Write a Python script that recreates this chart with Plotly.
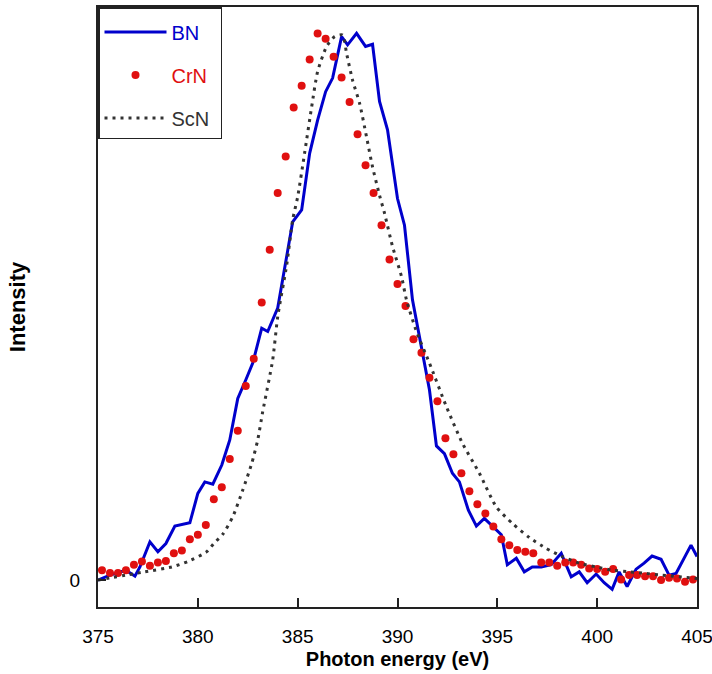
import plotly.graph_objects as go

# BN spectrum (solid blue line)
bn_energy = [375.0, 375.6, 376.4, 376.85, 377.1, 377.6, 378.0, 378.4, 378.85, 379.6,
             380.0, 380.35, 380.75, 381.2, 381.6, 382.0, 382.4, 382.75, 383.2, 383.5,
             384.0, 384.75, 385.2, 385.6, 386.0, 386.4, 386.75, 387.2, 387.5, 387.95,
             388.4, 388.75, 389.1, 389.5, 390.0, 390.35, 390.75, 391.6, 391.95, 392.35,
             392.75, 393.1, 393.55, 393.95, 394.35, 394.75, 395.2, 395.5, 395.95, 396.35,
             396.75, 397.2, 397.7, 398.2, 398.7, 399.1, 399.5, 399.95, 400.35, 400.75,
             401.1, 401.5, 401.95, 402.35, 402.75, 403.2, 403.6, 403.95, 404.35, 404.7,
             405.0]
bn_intensity = [0.0, 0.009, 0.018, 0.007, 0.024, 0.070, 0.052, 0.067, 0.099, 0.105,
                0.159, 0.180, 0.176, 0.211, 0.257, 0.333, 0.367, 0.398, 0.462, 0.456,
                0.499, 0.657, 0.679, 0.783, 0.844, 0.896, 0.921, 0.997, 0.982, 1.003,
                0.979, 0.983, 0.878, 0.826, 0.700, 0.651, 0.514, 0.349, 0.246, 0.232,
                0.196, 0.180, 0.128, 0.099, 0.113, 0.098, 0.083, 0.028, 0.040, 0.015,
                0.024, 0.024, 0.028, 0.049, 0.006, 0.015, -0.005, 0.011, -0.005, -0.017,
                0.015, -0.012, 0.020, 0.031, 0.044, 0.038, 0.009, 0.012, 0.040, 0.064,
                0.043]

# CrN spectrum (red dots)
crn_energy = [375.2, 375.6, 376.0, 376.4, 376.8, 377.2, 377.6, 378.0, 378.4, 378.8,
              379.2, 379.6, 380.0, 380.4, 380.8, 381.2, 381.6, 382.0, 382.4, 382.8,
              383.2, 383.6, 384.0, 384.4, 384.8, 385.2, 385.6, 386.0, 386.4, 386.8,
              387.2, 387.6, 388.0, 388.4, 388.8, 389.2, 389.6, 390.0, 390.4, 390.8,
              391.2, 391.6, 392.0, 392.4, 392.8, 393.2, 393.6, 394.0, 394.4, 394.8,
              395.2, 395.6, 396.0, 396.4, 396.8, 397.2, 397.6, 398.0, 398.4, 398.8,
              399.2, 399.6, 400.0, 400.4, 400.8, 401.2, 401.6, 402.0, 402.4, 402.8,
              403.2, 403.6, 404.0, 404.4, 404.8]
crn_intensity = [0.018, 0.013, 0.013, 0.018, 0.028, 0.034, 0.026, 0.032, 0.035, 0.049,
                 0.054, 0.075, 0.083, 0.101, 0.148, 0.170, 0.222, 0.274, 0.356, 0.406,
                 0.509, 0.606, 0.710, 0.777, 0.867, 0.907, 0.955, 1.003, 0.993, 0.960,
                 0.922, 0.877, 0.818, 0.761, 0.710, 0.651, 0.588, 0.543, 0.503, 0.442,
                 0.417, 0.371, 0.328, 0.260, 0.231, 0.196, 0.163, 0.139, 0.122, 0.098,
                 0.075, 0.064, 0.055, 0.052, 0.049, 0.032, 0.032, 0.026, 0.032, 0.032,
                 0.028, 0.021, 0.020, 0.015, 0.020, 0.001, 0.009, 0.009, 0.007, 0.007,
                 0.000, 0.004, 0.003, -0.003, 0.001]

# ScN spectrum (dotted dark line)
scn_energy = [375.0, 377.35, 378.7, 379.5, 380.45, 380.8, 381.25, 381.75, 382.25, 382.7,
              383.0, 383.25, 383.75, 384.0, 384.45, 384.75, 385.0, 385.35, 385.7, 386.0,
              386.45, 386.85, 387.25, 387.45, 387.75, 388.1, 388.45, 388.75, 389.1, 389.35,
              389.75, 390.2, 390.45, 390.95, 391.6, 392.45, 393.25, 394.1, 394.95, 395.75,
              396.6, 397.45, 398.25, 399.1, 399.95, 400.75, 401.6, 402.45, 403.25, 404.1,
              405.0]
scn_intensity = [0.0, 0.015, 0.024, 0.034, 0.052, 0.067, 0.084, 0.116, 0.165, 0.214,
                 0.257, 0.309, 0.404, 0.483, 0.578, 0.661, 0.703, 0.784, 0.868, 0.933,
                 0.979, 0.997, 1.000, 0.966, 0.917, 0.875, 0.813, 0.758, 0.706, 0.673,
                 0.612, 0.557, 0.514, 0.456, 0.398, 0.318, 0.251, 0.196, 0.134, 0.104,
                 0.078, 0.058, 0.043, 0.031, 0.024, 0.018, 0.015, 0.012, 0.009, 0.006,
                 0.003]

x_ticks = [375, 380, 385, 390, 395, 400, 405]

blue = "#0000cc"
red = "#e01010"
dark = "#333333"
font = "Liberation Sans, Arial, sans-serif"

fig = go.Figure()

fig.add_trace(go.Scatter(
    x=bn_energy, y=bn_intensity, mode="lines",
    name=f"<span style='color:{blue}'>BN</span>&nbsp;",
    legendgroup="bn",
    line=dict(color=blue, width=3),
))
fig.add_trace(go.Scatter(
    x=crn_energy, y=crn_intensity, mode="markers",
    name=f"<span style='color:{red}'>CrN</span>&nbsp;",
    legendgroup="crn",
    marker=dict(color=red, size=8),
))
fig.add_trace(go.Scatter(
    x=scn_energy, y=scn_intensity, mode="lines",
    name=f"<span style='color:{dark}'>ScN</span>&nbsp;",
    legendgroup="scn",
    line=dict(color=dark, width=3, dash="3px,5px", shape="spline", smoothing=0.6),
))

fig.update_layout(
    width=712, height=674, autosize=False,
    margin=dict(l=98, r=15, t=7, b=67),
    paper_bgcolor="white", plot_bgcolor="white",
    font=dict(family=font, size=19, color="black"),
    showlegend=True,
    legend=dict(
        x=0, y=1, xanchor="left", yanchor="top",
        bgcolor="white", bordercolor="#222222", borderwidth=1.5,
        itemwidth=62, tracegroupgap=14,
        font=dict(family=font, size=20),
        title=dict(text=" ", font=dict(size=3)),
    ),
)

fig.update_xaxes(
    range=[375, 405],
    tickvals=x_ticks,
    ticks="inside", ticklen=9, tickwidth=1.5, tickcolor="#222222",
    showline=True, linecolor="#222222", linewidth=2, mirror=True,
    showgrid=False, zeroline=False, automargin=False,
    ticklabelstandoff=11, ticklabeloverflow="allow",
    title=dict(text="<b>Photon energy (eV)</b>", font=dict(size=20), standoff=6),
)
fig.update_yaxes(
    range=[-0.0495, 1.0514],
    tickvals=[0], ticktext=["0"],
    ticks="inside", ticklen=8, tickwidth=1.5, tickcolor="#222222",
    showline=True, linecolor="#222222", linewidth=2, mirror=True,
    showgrid=False, zeroline=False, automargin=False,
    ticklabelstandoff=12,
    title=dict(text="<b>Intensity</b>", font=dict(size=22), standoff=38),
)

# drop the default page margin and scrollbars so the figure fills the window
fig.write_html(
    "out.html",
    config={"displayModeBar": False, "responsive": False},
    post_script="document.body.style.margin = '0'; document.body.style.overflow = 'hidden';",
)
